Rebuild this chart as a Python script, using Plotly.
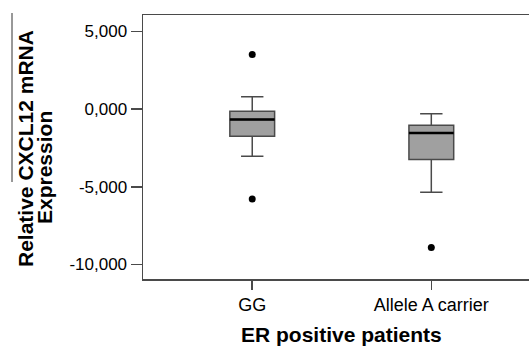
import plotly.graph_objects as go

categories = ["GG", "Allele A carrier"]
q1 = [-1760, -3240]
median = [-670, -1540]
q3 = [-150, -1050]
lower_fence = [-3040, -5360]
upper_fence = [790, -300]
outlier_x = ["GG", "GG", "Allele A carrier"]
outlier_y = [3510, -5780, -8910]
ytick_vals = [5000, 0, -5000, -10000]
ytick_text = ["5,000", "0,000", "-5,000", "-10,000"]

FONT = "Arial, Liberation Sans, sans-serif"
EDGE = "#4a4a4a"

# figure is slightly wider than the window so the plot area runs off the right edge
L, R, T, B = 143, 0, 15, 67
W, H = 535, 346
pw = W - L - R
ph = H - T - B


def px_x(x):
    return (x - L) / pw


def px_y(y):
    return (H - B - y) / ph


fig = go.Figure()
fig.add_trace(go.Box(
    x=categories, q1=q1, median=median, q3=q3,
    lowerfence=lower_fence, upperfence=upper_fence,
    fillcolor="#a0a0a0", line=dict(color=EDGE, width=1.5),
    width=0.25, whiskerwidth=0.5, boxpoints=False, showlegend=False,
    hoverinfo="skip",
))
# thick black median line
fig.add_trace(go.Box(
    x=categories, q1=median, median=median, q3=median,
    lowerfence=median, upperfence=median,
    fillcolor="rgba(0,0,0,0)", line=dict(color="black", width=2.5),
    width=0.25, whiskerwidth=0, boxpoints=False, showlegend=False,
    hoverinfo="skip",
))
fig.add_trace(go.Scatter(
    x=outlier_x, y=outlier_y, mode="markers",
    marker=dict(color="black", size=7), showlegend=False,
))

fig.update_layout(
    width=W, height=H,
    margin=dict(l=L, r=R, t=T, b=B, autoexpand=False),
    plot_bgcolor="white", paper_bgcolor="white",
    boxmode="overlay",
    font=dict(family=FONT, color="black"),
    xaxis=dict(
        type="category", categoryorder="array", categoryarray=categories,
        range=[-0.61, 1.579], showline=True, mirror=True, automargin=False,
        linecolor=EDGE, linewidth=1.5, ticks="outside", ticklen=9,
        tickcolor=EDGE, tickwidth=1.5, showgrid=False, zeroline=False,
        tickfont=dict(size=18, family=FONT, color="black"),
    ),
    yaxis=dict(
        range=[-10932, 6045], showline=True, mirror=False, automargin=False,
        linecolor=EDGE, linewidth=1.5, ticks="outside", ticklen=11,
        tickcolor=EDGE, tickwidth=1.5, showgrid=False, zeroline=False,
        tickvals=ytick_vals, ticktext=ytick_text,
        tickfont=dict(size=17, family=FONT, color="black"),
    ),
    annotations=[
        dict(text="<b>ER positive patients</b>",
             x=px_x(341), y=px_y(334), xref="paper", yref="paper",
             xanchor="center", yanchor="middle",
             showarrow=False, font=dict(size=21, family=FONT, color="black")),
        dict(text="<b>Relative CXCL12 mRNA</b>", textangle=-90,
             x=px_x(25), y=px_y(149), xref="paper", yref="paper",
             xanchor="center", yanchor="middle", showarrow=False,
             font=dict(size=21, family=FONT, color="black")),
        dict(text="<b>Expression</b>", textangle=-90,
             x=px_x(44), y=px_y(168), xref="paper", yref="paper",
             xanchor="center", yanchor="middle", showarrow=False,
             font=dict(size=21, family=FONT, color="black")),
    ],
)

fig.add_shape(type="line", xref="paper", yref="paper",
              x0=px_x(12), x1=px_x(12), y0=px_y(13), y1=px_y(182),
              line=dict(color="#333333", width=1))

fig.write_html(
    "out.html",
    config={"displayModeBar": False, "staticPlot": True},
    post_script="document.body.style.margin='0';document.body.style.overflow='hidden';",
)
